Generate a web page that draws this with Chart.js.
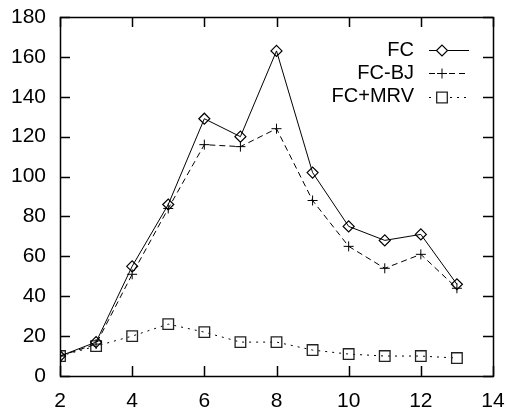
<!DOCTYPE html>
<html>
<head>
<meta charset="utf-8">
<script src="https://cdn.jsdelivr.net/npm/chart.js@4/dist/chart.umd.min.js"></script>
<style>
html,body{margin:0;padding:0;background:#fff;}
#wrap{width:507px;height:410px;}
</style>
</head>
<body>
<div id="wrap"><canvas id="c" width="507" height="410"></canvas></div>
<script>
// ---- data ----
const xValues = [2, 3, 4, 5, 6, 7, 8, 9, 10, 11, 12, 13];
const fcValues = [10, 17, 55, 86, 129, 120, 163, 102, 75, 68, 71, 46];
const fcBjValues = [10, 16, 51, 84, 116, 115, 124, 88, 65, 54, 61, 44];
const fcMrvValues = [10, 15, 20, 26, 22, 17, 17, 13, 11, 10, 10, 9];
const seriesNames = ['FC', 'FC-BJ', 'FC+MRV'];
const xTickValues = [2, 4, 6, 8, 10, 12, 14];
const yTickValues = [0, 20, 40, 60, 80, 100, 120, 140, 160, 180];

const FONT = '"Liberation Sans", Arial, Helvetica, sans-serif';

function pts(ys) { return xValues.map((x, i) => ({x: x, y: ys[i]})); }
function zeroPad(s) { s.paddingLeft = 0; s.paddingRight = 0; s.paddingTop = 0; s.paddingBottom = 0; }

const frameTicks = {
  id: 'frameTicks',
  afterDatasetsDraw(chart) {
    const {ctx, chartArea: a, scales} = chart;
    ctx.save();
    ctx.strokeStyle = '#000';
    ctx.lineWidth = 1.5;
    ctx.setLineDash([]);
    const L = 10;
    ctx.beginPath();
    xTickValues.forEach(v => {
      const px = Math.round(scales.x.getPixelForValue(v)) + 0.5;
      ctx.moveTo(px, a.bottom); ctx.lineTo(px, a.bottom - L);
      ctx.moveTo(px, a.top); ctx.lineTo(px, a.top + L);
    });
    yTickValues.forEach(v => {
      const py = Math.round(scales.y.getPixelForValue(v)) + 0.5;
      ctx.moveTo(a.left, py); ctx.lineTo(a.left + L, py);
      ctx.moveTo(a.right, py); ctx.lineTo(a.right - L, py);
    });
    ctx.stroke();
    ctx.strokeRect(Math.round(a.left) + 0.5, Math.round(a.top) + 0.5,
                   Math.round(a.right - a.left), Math.round(a.bottom - a.top));
    ctx.restore();
  }
};

const keyLegend = {
  id: 'keyLegend',
  afterDraw(chart) {
    const {ctx, chartArea: a} = chart;
    const textRight = a.right - 79;
    const lineStart = a.right - 64;
    const lineEnd = a.right - 24;
    const pointX = a.right - 51;
    const rowTop = a.top + 33;
    const rowGap = 23.3;
    ctx.save();
    chart.data.datasets.forEach((ds, i) => {
      const y = rowTop + i * rowGap;
      ctx.font = '20px ' + FONT;
      ctx.fillStyle = '#000';
      ctx.textAlign = 'right';
      ctx.textBaseline = 'middle';
      ctx.fillText(ds.label, textRight, y);
      ctx.strokeStyle = ds.borderColor;
      ctx.lineWidth = ds.borderWidth;
      ctx.setLineDash(ds.borderDash || []);
      ctx.beginPath();
      ctx.moveTo(lineStart, Math.round(y) + 0.5);
      ctx.lineTo(lineEnd, Math.round(y) + 0.5);
      ctx.stroke();
      ctx.setLineDash([]);
      ctx.fillStyle = '#fff';
      ctx.strokeStyle = ds.pointBorderColor;
      ctx.lineWidth = ds.pointBorderWidth;
      Chart.helpers.drawPoint(ctx, {pointStyle: ds.pointStyle, radius: ds.pointRadius, rotation: 0, borderWidth: ds.pointBorderWidth}, pointX, Math.round(y) + 0.5);
    });
    ctx.restore();
  }
};

new Chart(document.getElementById('c'), {
  type: 'line',
  data: {
    datasets: [
      {label: seriesNames[0], data: pts(fcValues), borderColor: '#000', borderWidth: 1,
       pointStyle: 'rectRot', pointRadius: 5.5, pointBorderColor: '#000', pointBorderWidth: 1.2,
       pointBackgroundColor: 'rgba(0,0,0,0)', tension: 0, fill: false},
      {label: seriesNames[1], data: pts(fcBjValues), borderColor: '#000', borderWidth: 1, borderDash: [6, 4],
       pointStyle: 'cross', pointRadius: 5, pointBorderColor: '#000', pointBorderWidth: 1,
       pointBackgroundColor: 'rgba(0,0,0,0)', tension: 0, fill: false},
      {label: seriesNames[2], data: pts(fcMrvValues), borderColor: '#000', borderWidth: 1, borderDash: [2, 5],
       pointStyle: 'rect', pointRadius: 7.5, pointBorderColor: '#222', pointBorderWidth: 1.3,
       pointBackgroundColor: 'rgba(0,0,0,0)', tension: 0, fill: false}
    ]
  },
  options: {
    responsive: false,
    animation: false,
    devicePixelRatio: 1,
    layout: {padding: {top: 17, right: 14, left: 0, bottom: 0}},
    plugins: {legend: {display: false}, tooltip: {enabled: false}},
    scales: {
      x: {
        type: 'linear', min: 2, max: 14,
        afterFit(s) { s.height = 34; zeroPad(s); },
        afterBuildTicks(s) { s.ticks = xTickValues.map(v => ({value: v})); },
        grid: {display: false, drawTicks: false},
        border: {display: false},
        ticks: {padding: 13, color: '#000', font: {family: FONT, size: 21}, maxRotation: 0, autoSkip: false}
      },
      y: {
        type: 'linear', min: 0, max: 180,
        afterFit(s) { s.width = 60; zeroPad(s); },
        afterBuildTicks(s) { s.ticks = yTickValues.map(v => ({value: v})); },
        grid: {display: false, drawTicks: false},
        border: {display: false},
        ticks: {padding: 14, color: '#000', font: {family: FONT, size: 21}, autoSkip: false}
      }
    }
  },
  plugins: [frameTicks, keyLegend]
});
</script>
</body>
</html>
